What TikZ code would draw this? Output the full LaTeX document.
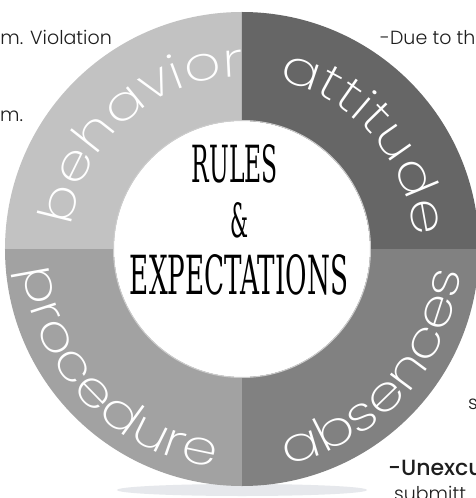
\documentclass[tikz,border=0pt]{standalone}
\usepackage{fontspec}
\usetikzlibrary{decorations.text}
\IfFontExistsTF{Poppins ExtraLight}{\newfontfamily\ringfont{Poppins ExtraLight}[FakeStretch=1.2]}{\IfFontExistsTF{Poppins Light}{\newfontfamily\ringfont{Poppins Light}[FakeStretch=1.2]}{\newfontfamily\ringfont{Poppins}[FakeStretch=1.2]}}
\IfFontExistsTF{Poppins Light}{\newfontfamily\sidefont{Poppins Light}}{\newfontfamily\sidefont{Poppins}}
\IfFontExistsTF{Poppins Medium}{\newfontfamily\sidebold{Poppins Medium}}{\newfontfamily\sidebold{Poppins}}
\IfFontExistsTF{DejaVu Serif Condensed}{\newfontfamily\titlefont{DejaVu Serif Condensed}}{\newfontfamily\titlefont{DejaVu Serif}}
\definecolor{behaviorc}{HTML}{C2C2C2}
\definecolor{attitudec}{HTML}{666666}
\definecolor{absencesc}{HTML}{818181}
\definecolor{procedurec}{HTML}{A2A2A2}
\definecolor{shadowc}{HTML}{E6E8EC}
\definecolor{sidetext}{HTML}{1E1E1E}
\tikzset{
  sidenote/.style={inner sep=0pt,text=sidetext,font=\sidefont\fontsize{19}{22}\selectfont},
  titlepart/.style={inner sep=0pt,text=black},
  ringlabel/.style={decorate,decoration={text along path,text align=center,text color=white,text={|\ringfont\fontsize{48}{50}\selectfont|#1}}}
}
\begin{document}
\begin{tikzpicture}[x=1pt,y=1pt]
\useasboundingbox (-242,-249) rectangle (233,249);
\fill[white] (-242,-249) rectangle (233,249);
% soft shadow under the ring
\fill[shadowc] (0,-241) ellipse[x radius=125,y radius=6];
% ring sectors
\fill[behaviorc] (0,0) -- (90:237) arc[start angle=90,end angle=180,radius=237] -- cycle;
\fill[attitudec] (0,0) -- (0:237) arc[start angle=0,end angle=90,radius=237] -- cycle;
\fill[absencesc] (0,0) -- (270:237) arc[start angle=270,end angle=360,radius=237] -- cycle;
\fill[procedurec] (0,0) -- (180:237) arc[start angle=180,end angle=270,radius=237] -- cycle;
% inner disk
\fill[white] (0,0) circle[radius=128];
\draw[black!20,line width=1pt] (0,0) circle[radius=128.5];
% curved labels
\path[ringlabel=behavior] (182:172) arc[start angle=182,end angle=80,radius=172];
\path[ringlabel=attitude] (92:172) arc[start angle=92,end angle=-10,radius=172];
\path[ringlabel=procedure] (172:220) arc[start angle=172,end angle=276,radius=220];
\path[ringlabel=absences] (-94:220) arc[start angle=-94,end angle=10,radius=220];
% centre title
\node[titlepart] (rules) at (-7,85) {\resizebox{86pt}{38pt}{\titlefont RULES}};
\node[titlepart] (amp) at (-3,29) {\resizebox{18pt}{35pt}{\titlefont \&}};
\node[titlepart] (expect) at (-3,-26) {\resizebox{218pt}{40pt}{\titlefont EXPECTATIONS}};
% cut-off side notes
\node[sidenote,anchor=base east] (viol) at (-130,204) {m. Violation};
\node[sidenote,anchor=base west] (mdot) at (-242,127) {m.};
\node[sidenote,anchor=base west] (due) at (138,204) {-Due to th};
\node[sidenote,anchor=base west] (sfrag) at (226,-160) {s};
\node[sidenote,anchor=base west,font=\sidebold\fontsize{22}{24}\selectfont] (unex) at (146,-226) {-Unexcu};
\node[sidenote,anchor=base west] (subm) at (152,-251) {submitt};
\end{tikzpicture}
\end{document}
